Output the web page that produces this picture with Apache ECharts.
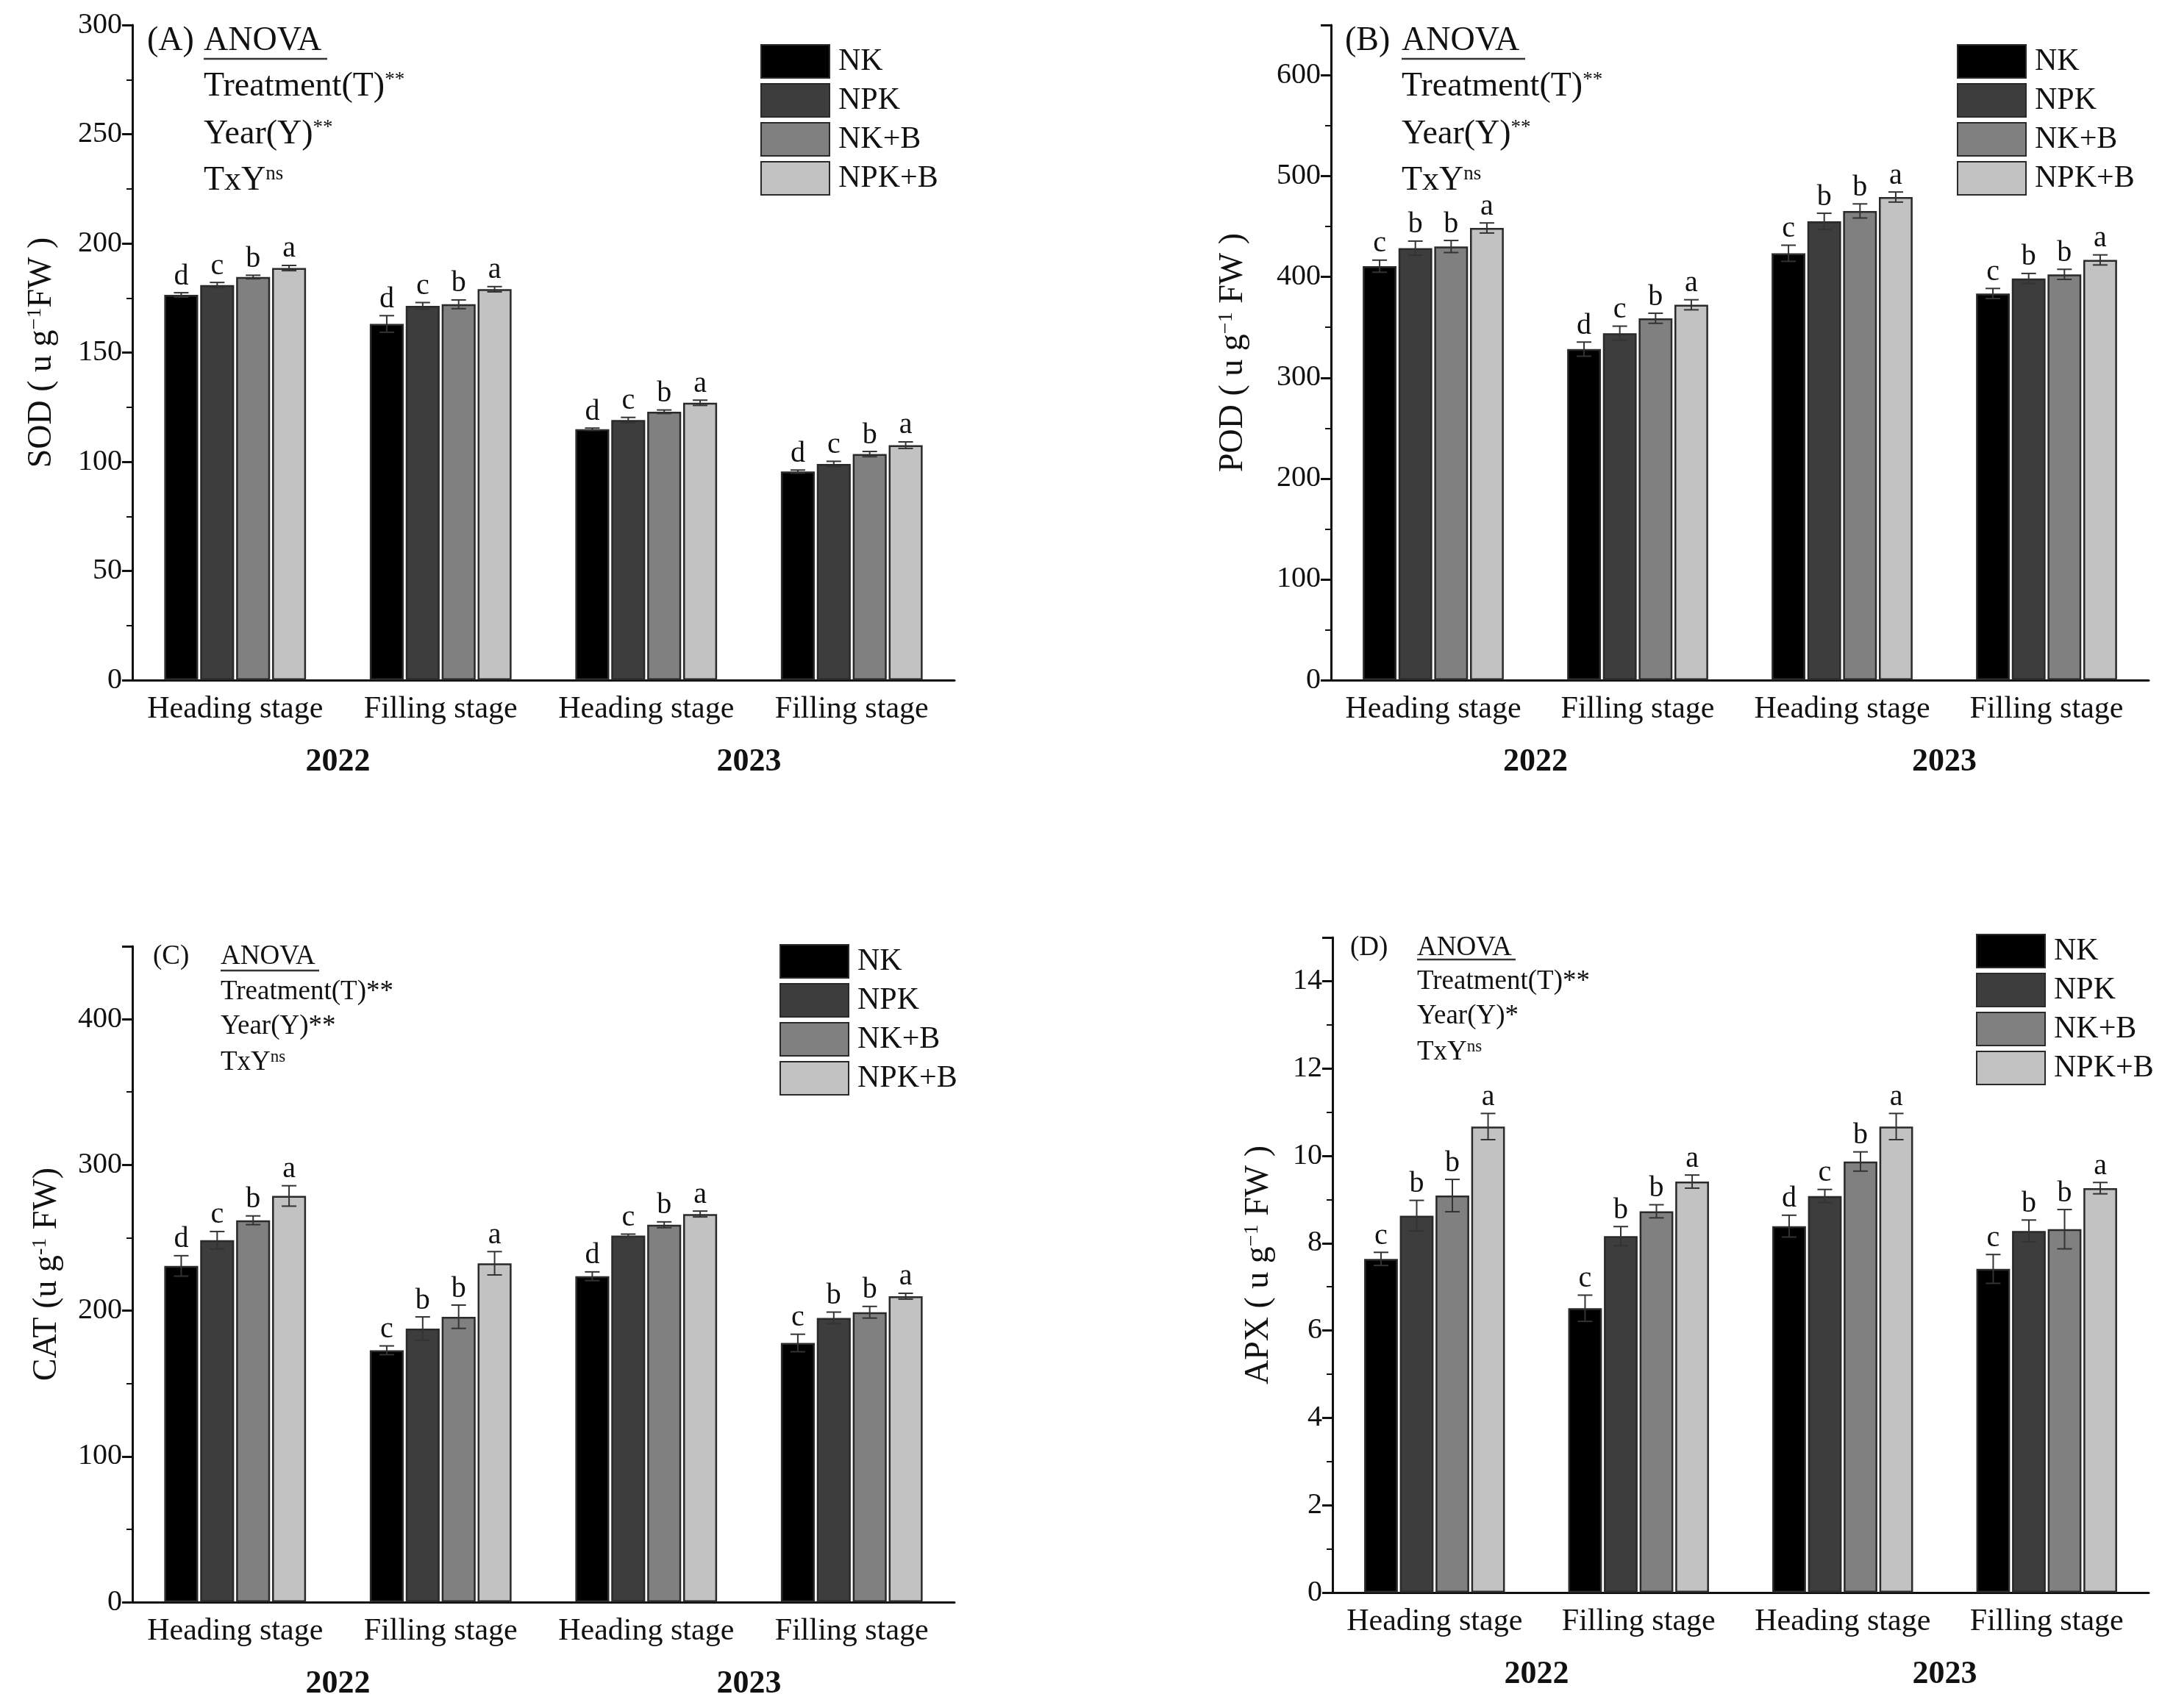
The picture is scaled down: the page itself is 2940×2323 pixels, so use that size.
<!DOCTYPE html>
<html>
<head>
<meta charset="utf-8">
<script src="https://cdn.jsdelivr.net/npm/echarts@6/dist/echarts.min.js"></script>
<style>
html,body{margin:0;padding:0;background:#fff;}
#chart{width:2940px;height:2323px;}
</style>
</head>
<body>
<div id="chart"></div>
<script>
// ---------- data ----------
const categories = ['H2022', 'F2022', 'H2023', 'F2023'];
const stageLabels = ['Heading stage', 'Filling stage', 'Heading stage', 'Filling stage'];
const years = ['2022', '2023'];
const treatments = ['NK', 'NPK', 'NK+B', 'NPK+B'];

// rows = treatments (NK, NPK, NK+B, NPK+B); cols = categories
const sodMeans = [
  [176.4, 163.1, 114.9, 95.5],
  [180.9, 171.4, 119.1, 99.0],
  [184.6, 172.1, 122.9, 103.5],
  [188.7, 179.0, 127.0, 107.6]
];
const sodErr = [
  [1.0, 3.8, 0.5, 0.7],
  [1.2, 1.5, 1.2, 1.2],
  [0.8, 2.0, 0.8, 1.2],
  [1.2, 1.2, 1.2, 1.5]
];
const sodLetters = [
  ['d', 'd', 'd', 'd'],
  ['c', 'c', 'c', 'c'],
  ['b', 'b', 'b', 'b'],
  ['a', 'a', 'a', 'a']
];

const podMeans = [
  [410.7, 328.4, 423.5, 383.6],
  [428.6, 344.2, 455.2, 398.5],
  [430.2, 359.0, 465.5, 402.6],
  [448.6, 372.4, 479.3, 416.9]
];
const podErr = [
  [6, 7, 8, 5],
  [7, 7, 8, 5],
  [6, 5, 7, 5],
  [5, 5, 5, 5]
];
const podLetters = [
  ['c', 'd', 'c', 'c'],
  ['b', 'c', 'b', 'b'],
  ['b', 'b', 'b', 'b'],
  ['a', 'a', 'a', 'a']
];

const catMeans = [
  [230.7, 172.8, 223.6, 177.8],
  [248.3, 187.7, 251.5, 195.0],
  [262.0, 195.8, 258.9, 198.9],
  [278.7, 232.5, 266.3, 209.9]
];
const catErr = [
  [7, 3, 3, 6],
  [6, 8, 1, 4],
  [3, 8, 2, 4],
  [7, 8, 2, 2]
];
const catLetters = [
  ['d', 'c', 'd', 'c'],
  ['c', 'b', 'c', 'b'],
  ['b', 'b', 'b', 'b'],
  ['a', 'a', 'a', 'a']
];

const apxMeans = [
  [7.64, 6.51, 8.39, 7.41],
  [8.63, 8.16, 9.08, 8.28],
  [9.09, 8.73, 9.87, 8.32],
  [10.67, 9.41, 10.67, 9.26]
];
const apxErr = [
  [0.15, 0.30, 0.25, 0.33],
  [0.35, 0.22, 0.15, 0.25],
  [0.37, 0.15, 0.22, 0.45],
  [0.30, 0.15, 0.30, 0.13]
];
const apxLetters = [
  ['c', 'c', 'd', 'c'],
  ['b', 'b', 'c', 'b'],
  ['b', 'b', 'b', 'b'],
  ['a', 'a', 'a', 'a']
];

const sodTicks = {min: 0, max: 300, interval: 50};
const podTicks = {min: 0, max: 650, interval: 100};
const catTicks = {min: 0, max: 450, interval: 100};
const apxTicks = {min: 0, max: 15, interval: 2};

// ---------- styles ----------
const FONT = 'Liberation Serif';
const barColors = ['#000000', '#3d3d3d', '#808080', '#c2c2c2'];
const BAR_W = 0.165;   // fraction of category band
const BAR_GAP = 0.06;  // fraction of bar width

const panels = [
  {key: 'A', means: sodMeans, err: sodErr, letters: sodLetters, ticks: sodTicks,
   grid: {left: 180, top: 34, width: 1118, height: 891},
   yname: ['SOD ( u g', '−1', 'FW )'], nameGap: 100,
   legend: {left: 1029, top: 55},
   ann: {label: '(A)', lx: 200, ax: 277, ys: [60, 122, 187, 250], fs: 46, sup: 27,
         rows: [['Treatment(T)', '**', true], ['Year(Y)', '**', true], ['TxY', 'ns', true]], ul: 80, ulw: 168}},
  {key: 'B', means: podMeans, err: podErr, letters: podLetters, ticks: podTicks,
   grid: {left: 1810, top: 34, width: 1112, height: 891},
   yname: ['POD ( u g', '−1', ' FW )'], nameGap: 110,
   legend: {left: 2656, top: 55},
   ann: {label: '(B)', lx: 1829, ax: 1906, ys: [60, 122, 187, 250], fs: 46, sup: 27,
         rows: [['Treatment(T)', '**', true], ['Year(Y)', '**', true], ['TxY', 'ns', true]], ul: 80, ulw: 168}},
  {key: 'C', means: catMeans, err: catErr, letters: catLetters, ticks: catTicks,
   grid: {left: 180, top: 1287, width: 1118, height: 892},
   yname: ['CAT (u g', '-1', ' FW)'], nameGap: 93,
   legend: {left: 1055, top: 1279},
   ann: {label: '(C)', lx: 208, ax: 300, ys: [1304, 1352, 1399, 1448], fs: 37, sup: 23,
         rows: [['Treatment(T)**', '', false], ['Year(Y)**', '', false], ['TxY', 'ns', true]], ul: 1320, ulw: 134}},
  {key: 'D', means: apxMeans, err: apxErr, letters: apxLetters, ticks: apxTicks,
   grid: {left: 1812, top: 1275, width: 1110, height: 891},
   yname: ['APX ( u g', '−1', ' FW )'], nameGap: 77,
   legend: {left: 2682, top: 1265},
   ann: {label: '(D)', lx: 1836, ax: 1927, ys: [1292, 1338, 1385, 1434], fs: 37, sup: 23,
         rows: [['Treatment(T)**', '', false], ['Year(Y)*', '', false], ['TxY', 'ns', true]], ul: 1305, ulw: 134}}
];

const grids = [], xAxes = [], yAxes = [], series = [], legends = [], graphics = [];

panels.forEach((p, pi) => {
  grids.push(Object.assign({containLabel: false}, p.grid));
  xAxes.push({
    type: 'category', gridIndex: pi, data: categories, position: 'bottom',
    axisLine: {show: true, onZero: false, lineStyle: {color: '#111', width: 3}},
    axisTick: {show: false},
    axisLabel: {fontFamily: FONT, fontSize: 42, color: '#111', margin: 19, interval: 0, hideOverlap: false,
                formatter: (v, i) => stageLabels[i]},
    splitLine: {show: false}
  });
  xAxes.push({
    type: 'category', gridIndex: pi, data: years, position: 'bottom', offset: 80,
    axisLine: {show: false}, axisTick: {show: false},
    axisLabel: {fontFamily: FONT, fontSize: 44, fontWeight: 'bold', color: '#111', margin: 10, interval: 0},
    splitLine: {show: false}
  });
  yAxes.push({
    type: 'value', gridIndex: pi, min: p.ticks.min, max: p.ticks.max, interval: p.ticks.interval,
    name: '{n|' + p.yname[0] + '}{s|' + p.yname[1] + '}{n|' + p.yname[2] + '}',
    nameLocation: 'middle', nameGap: p.nameGap, nameRotate: 90,
    nameTextStyle: {fontFamily: FONT, fontSize: 46, color: '#111',
      rich: {n: {fontFamily: FONT, fontSize: 46, color: '#111'},
             s: {fontFamily: FONT, fontSize: 28, color: '#111', verticalAlign: 'top'}}},
    axisLine: {show: true, lineStyle: {color: '#111', width: 3}},
    axisTick: {show: true, length: 14, lineStyle: {color: '#111', width: 3}},
    minorTick: {show: true, splitNumber: 2, length: 8, lineStyle: {color: '#111', width: 2}},
    axisLabel: {fontFamily: FONT, fontSize: 40, color: '#111', margin: 14, showMaxLabel: p.ticks.max % p.ticks.interval === 0},
    splitLine: {show: false}, minorSplitLine: {show: false}
  });

  treatments.forEach((t, ti) => {
    series.push({
      type: 'bar', name: t, xAxisIndex: pi * 2, yAxisIndex: pi,
      data: p.means[ti],
      barWidth: (BAR_W * 100) + '%', barGap: (BAR_GAP * 100) + '%',
      itemStyle: {color: barColors[ti], borderColor: '#2a2a2a', borderWidth: 2.5},
      emphasis: {disabled: true},
      animation: false
    });
  });

  const errData = [];
  const letterList = [];
  treatments.forEach((t, ti) => {
    categories.forEach((c, ci) => {
      errData.push([ci, ti, p.means[ti][ci], p.err[ti][ci]]);
      letterList.push(p.letters[ti][ci]);
    });
  });
  series.push({
    type: 'custom', xAxisIndex: pi * 2, yAxisIndex: pi, data: errData,
    encode: {x: 0, y: 2}, animation: false, silent: true, z: 5,
    renderItem: function (params, api) {
      const ci = api.value(0), ti = api.value(1), v = api.value(2), e = api.value(3);
      const band = api.size([1, 0])[0];
      const w = band * BAR_W, g = w * BAR_GAP;
      const groupW = 4 * w + 3 * g;
      const cx = api.coord([ci, 0])[0] - groupW / 2 + ti * (w + g) + w / 2;
      const yT = api.coord([ci, v + e])[1];
      const yB = api.coord([ci, v - e])[1];
      const cap = 10;
      const ls = {stroke: '#333', lineWidth: 2};
      return {
        type: 'group',
        children: [
          {type: 'line', shape: {x1: cx, y1: yT, x2: cx, y2: yB}, style: ls},
          {type: 'line', shape: {x1: cx - cap, y1: yT, x2: cx + cap, y2: yT}, style: ls},
          {type: 'line', shape: {x1: cx - cap, y1: yB, x2: cx + cap, y2: yB}, style: ls},
          {type: 'text', style: {text: letterList[params.dataIndex], x: cx, y: yT - 2,
            align: 'center', verticalAlign: 'bottom', fontFamily: FONT, fontSize: 40, fill: '#111'}}
        ]
      };
    }
  });

  legends.push({
    left: p.legend.left, top: p.legend.top, orient: 'vertical',
    itemWidth: 93, itemHeight: 45, itemGap: 6, icon: 'rect',
    data: treatments, selectedMode: false,
    textStyle: {fontFamily: FONT, fontSize: 42, color: '#111', padding: [0, 0, 0, 7]}
  });

  const a = p.ann;
  graphics.push({type: 'text', left: a.lx, top: a.ys[0] - a.fs * 0.58,
    style: {text: a.label, fontFamily: FONT, fontSize: a.fs, fill: '#111'}});
  graphics.push({type: 'text', left: a.ax, top: a.ys[0] - a.fs * 0.58,
    style: {text: 'ANOVA', fontFamily: FONT, fontSize: a.fs, fill: '#111'}});
  graphics.push({type: 'line', shape: {x1: a.ax, y1: a.ul, x2: a.ax + a.ulw, y2: a.ul},
    style: {stroke: '#333', lineWidth: 2.5}});
  a.rows.forEach((r, ri) => {
    const txt = r[1] ? '{m|' + r[0] + '}{s|' + r[1] + '}' : '{m|' + r[0] + '}';
    graphics.push({type: 'text', left: a.ax, top: a.ys[ri + 1] - a.fs * 0.58,
      style: {text: txt, fontFamily: FONT, fontSize: a.fs, fill: '#111',
        rich: {m: {fontFamily: FONT, fontSize: a.fs, fill: '#111', color: '#111'},
               s: {fontFamily: FONT, fontSize: a.sup, fill: '#111', color: '#111', verticalAlign: 'top'}}}});
  });
});

const chart = echarts.init(document.getElementById('chart'), null, {renderer: 'canvas', width: 2940, height: 2323});
chart.setOption({
  backgroundColor: '#ffffff',
  animation: false,
  grid: grids, xAxis: xAxes, yAxis: yAxes, series: series,
  legend: legends, graphic: graphics
});
</script>
</body>
</html>
